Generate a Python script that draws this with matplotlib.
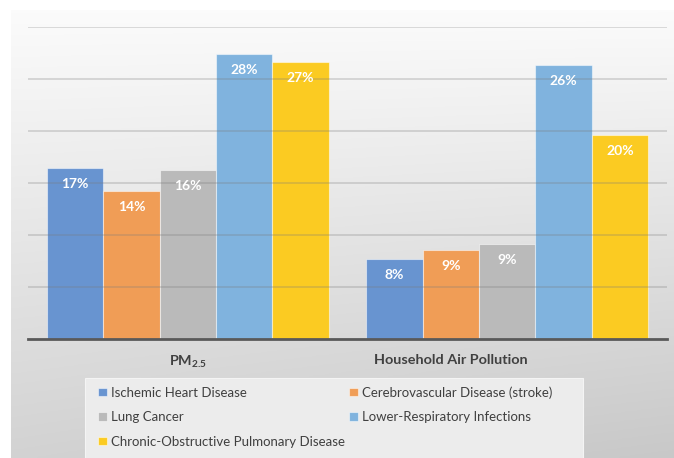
import numpy as np
import matplotlib
matplotlib.use("Agg")
import matplotlib.pyplot as plt
from matplotlib.patches import Rectangle
from matplotlib.transforms import ScaledTranslation

plt.rcParams['font.family'] = ['Lato', 'DejaVu Sans']
plt.rcParams['mathtext.fontset'] = 'custom'
plt.rcParams['mathtext.rm'] = 'Lato'
plt.rcParams['mathtext.bf'] = 'Lato:bold'

groups = [r"$\mathbf{PM}_{\mathbf{2.5}}$", "Household Air Pollution"]
series = ["Ischemic Heart Disease", "Cerebrovascular Disease (stroke)", "Lung Cancer",
          "Lower-Respiratory Infections", "Chronic-Obstructive Pulmonary Disease"]
values = {
    "Ischemic Heart Disease": [16.5, 7.7],
    "Cerebrovascular Disease (stroke)": [14.3, 8.6],
    "Lung Cancer": [16.3, 9.2],
    "Lower-Respiratory Infections": [27.4, 26.4],
    "Chronic-Obstructive Pulmonary Disease": [26.7, 19.6],
}
labels = {
    "Ischemic Heart Disease": ["17%", "8%"],
    "Cerebrovascular Disease (stroke)": ["14%", "9%"],
    "Lung Cancer": ["16%", "9%"],
    "Lower-Respiratory Infections": ["28%", "26%"],
    "Chronic-Obstructive Pulmonary Disease": ["27%", "20%"],
}
colors = ["#6894D0", "#F09D56", "#BABABA", "#80B3DE", "#FBCB22"]

W, H = 674, 458
fig = plt.figure(figsize=(W / 100, H / 100), dpi=100)
fig.patch.set_facecolor("white")

# gradient panel background
bg = fig.add_axes([11 / W, 0, 1 - 11 / W, 1 - 10 / H], zorder=-10)
ny, nx = 200, 200
yy = np.linspace(0, 1, ny)[:, None]
xx = np.linspace(0, 1, nx)[None, :]
val = 0.985 - 0.16 * yy - 0.04 * yy * xx
img = np.dstack([val, val, val])
bg.imshow(img, aspect="auto", extent=[0, 1, 0, 1], origin="upper")
bg.set_axis_off()

ax = fig.add_axes([28 / W, 1 - 339.3 / H, (667 - 28) / W, (339.3 - 27.3) / H])
ax.set_facecolor("none")
x = np.arange(len(groups))
bw = 0.1765
for i, (s, c) in enumerate(zip(series, colors)):
    pos = x + (i - 2) * bw
    bars = ax.bar(pos, values[s], width=bw, color=c, edgecolor=(1, 1, 1, 0.5),
                  linewidth=0.8, label=s, zorder=2)
    for b, lab in zip(bars, labels[s]):
        ax.annotate(lab, (b.get_x() + b.get_width() / 2, b.get_height()),
                    xytext=(0, -11.5), textcoords="offset points", ha="center",
                    va="center", color="white", fontsize=10, fontweight="bold", zorder=4)

ax.set_xlim(-0.5, 1.5)
ax.set_ylim(0, 30)
ax.set_yticks([5, 10, 15, 20, 25, 30])
ax.yaxis.grid(True, color="#7a7a7a", alpha=0.3, linewidth=1.2, zorder=3)
ax.set_axisbelow(False)
ax.tick_params(axis="y", left=False, labelleft=False)
ax.tick_params(axis="x", bottom=False, pad=7, labelsize=10.4, labelcolor="#404040")
ax.set_xticks(x)
ax.set_xticklabels(groups, fontweight="bold")
tl = ax.get_xticklabels()
tl[1].set_transform(tl[1].get_transform() + ScaledTranslation(-56 / 100, 0, fig.dpi_scale_trans))
for sp in ["top", "right", "left"]:
    ax.spines[sp].set_visible(False)
ax.spines["bottom"].set_color("#595959")
ax.spines["bottom"].set_linewidth(2)
ax.spines["bottom"].set_zorder(5)

# legend box
fig.patches.append(Rectangle((85 / W, 0), (583 - 85) / W, 1 - 378 / H,
                             transform=fig.transFigure, facecolor="#ececec",
                             edgecolor="#f4f4f4", linewidth=0.8, zorder=0))
handles, labs = ax.get_legend_handles_labels()
order = [0, 2, 4, 1, 3]
leg = fig.legend([handles[k] for k in order], [labs[k] for k in order],
                 loc="upper left", bbox_to_anchor=(98 / W, 1 - 386 / H),
                 ncol=2, frameon=False, fontsize=9.5, borderpad=0, borderaxespad=0,
                 handlelength=0.65, handleheight=0.65, handletextpad=0.35,
                 labelspacing=0.95, columnspacing=0.3)
for t in leg.get_texts():
    t.set_color("#404040")

fig.savefig("out.png", dpi=100)
